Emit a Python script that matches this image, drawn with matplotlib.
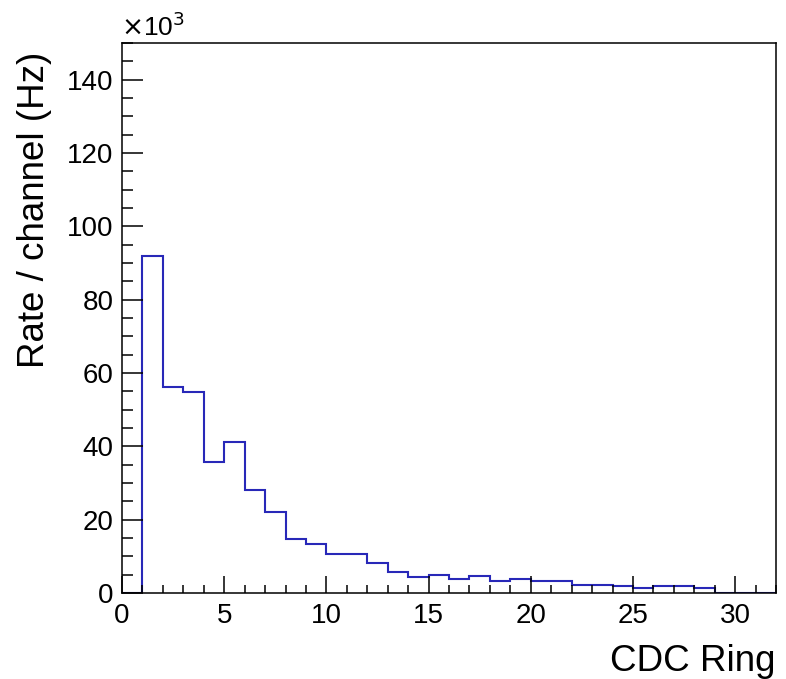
import numpy as np
import matplotlib
matplotlib.use("Agg")
import matplotlib.pyplot as plt
from matplotlib.ticker import MultipleLocator

plt.rcParams['font.family'] = ['Liberation Sans', 'DejaVu Sans']

# Data (rate in units of 10^3 Hz), bins of width 1 starting at 0
bin_edges = list(range(0, 33))
rates = [0, 92.0, 56.3, 54.7, 35.7, 41.1, 28.2, 22.1, 14.6, 13.5,
         10.6, 10.6, 8.2, 5.8, 4.5, 5.0, 3.8, 4.6, 3.3, 3.9,
         3.3, 3.3, 2.3, 2.3, 1.8, 1.4, 2.0, 2.0, 1.4, 0, 0, 0]
x_label = "CDC Ring"
y_label = "Rate / channel (Hz)"
x_ticks = [0, 5, 10, 15, 20, 25, 30]
y_ticks = [0, 20, 40, 60, 80, 100, 120, 140]

W, H = 786, 679
fig = plt.figure(figsize=(W / 100, H / 100), dpi=100)
ax = fig.add_axes([122 / W, 1 - 593 / H, (776 - 122) / W, (593 - 43) / H])

ax.stairs(rates, bin_edges, color='#2828b8', linewidth=1.5, baseline=None)

ax.set_xlim(0, 32)
ax.set_ylim(0, 150)
ax.set_xticks(x_ticks)
ax.set_yticks(y_ticks)
ax.xaxis.set_minor_locator(MultipleLocator(1))
ax.yaxis.set_minor_locator(MultipleLocator(5))
ax.tick_params(which='both', direction='in', top=False, right=False, width=1.1, color='black')
ax.tick_params(axis='x', which='major', length=12, labelsize=20, pad=7)
ax.tick_params(axis='x', which='minor', length=6)
ax.tick_params(axis='y', which='major', length=15, labelsize=20, pad=6)
ax.tick_params(axis='y', which='minor', length=8)
for s in ax.spines.values():
    s.set_linewidth(1.1)
    s.set_color('black')

fig.text(776 / W, 1 - 671 / H, x_label, ha='right', va='baseline', fontsize=26.5)
fig.text(35 / W, 1 - 52 / H, y_label, ha='center', va='top', rotation=90, fontsize=26.5)
fig.text(121 / W, 1 - 36 / H, r'$\times$10$^{3}$', ha='left', va='baseline', fontsize=19)

fig.savefig("out.png", dpi=100)
